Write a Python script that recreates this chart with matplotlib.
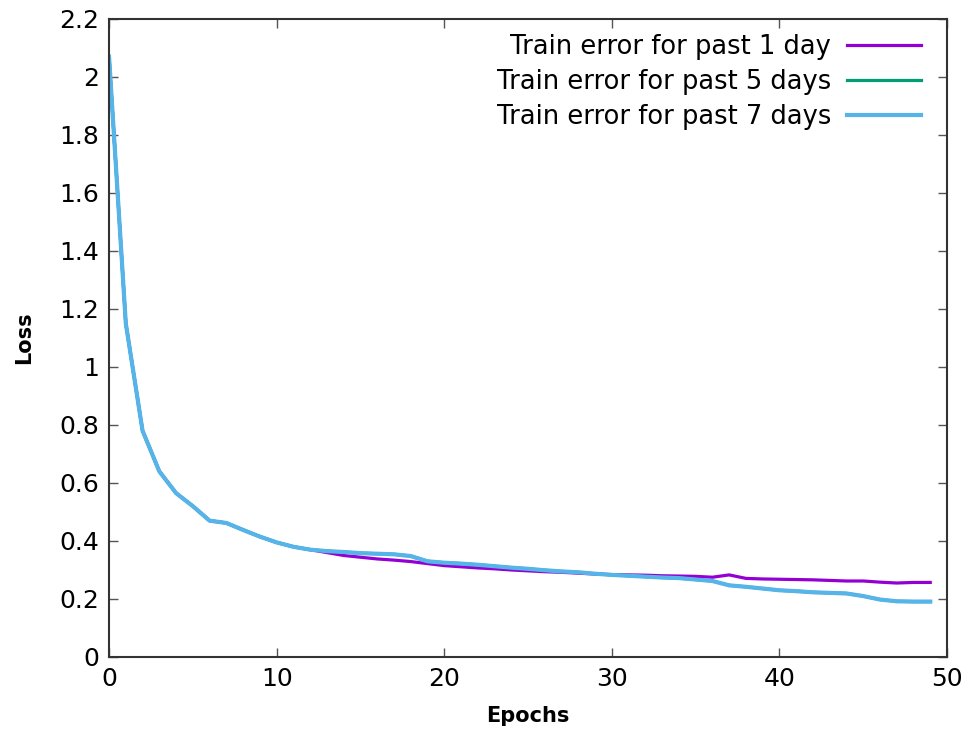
import matplotlib
matplotlib.use("Agg")
import matplotlib.pyplot as plt
from matplotlib.ticker import FuncFormatter, MultipleLocator

epochs = list(range(50))

loss_1day = [2.07, 1.15, 0.78, 0.64, 0.565, 0.52, 0.47, 0.462, 0.438, 0.415,
             0.395, 0.38, 0.37, 0.36, 0.35, 0.344, 0.338, 0.334, 0.329, 0.322,
             0.315, 0.311, 0.307, 0.304, 0.300, 0.297, 0.294, 0.292, 0.289, 0.286,
             0.284, 0.283, 0.282, 0.280, 0.279, 0.278, 0.275, 0.283, 0.271, 0.269,
             0.268, 0.267, 0.266, 0.264, 0.262, 0.262, 0.258, 0.255, 0.257, 0.257]

loss_5days = [2.07, 1.15, 0.78, 0.64, 0.565, 0.52, 0.47, 0.462, 0.438, 0.415,
              0.395, 0.38, 0.37, 0.365, 0.362, 0.358, 0.356, 0.354, 0.348, 0.330,
              0.325, 0.322, 0.318, 0.313, 0.308, 0.304, 0.299, 0.295, 0.292, 0.287,
              0.283, 0.280, 0.277, 0.274, 0.272, 0.267, 0.262, 0.247, 0.242, 0.236,
              0.230, 0.227, 0.223, 0.221, 0.219, 0.210, 0.198, 0.192, 0.191, 0.191]

loss_7days = [2.07, 1.15, 0.78, 0.64, 0.565, 0.52, 0.47, 0.462, 0.438, 0.415,
              0.395, 0.38, 0.37, 0.365, 0.362, 0.358, 0.356, 0.354, 0.348, 0.330,
              0.325, 0.322, 0.318, 0.313, 0.308, 0.304, 0.299, 0.295, 0.292, 0.287,
              0.283, 0.280, 0.277, 0.274, 0.272, 0.267, 0.262, 0.247, 0.242, 0.236,
              0.230, 0.227, 0.223, 0.221, 0.219, 0.210, 0.198, 0.192, 0.191, 0.191]

labels = ["Train error for past 1 day", "Train error for past 5 days",
          "Train error for past 7 days"]
colors = ["#9400D3", "#009E73", "#56B4E9"]

fig = plt.figure(figsize=(9.71, 7.29), dpi=100)
ax = fig.add_axes([0.1123, 0.0988, 0.8630, 0.8752])

ax.plot(epochs, loss_1day, color=colors[0], lw=2.3, label=labels[0])
ax.plot(epochs, loss_5days, color=colors[1], lw=2.3, label=labels[1])
ax.plot(epochs, loss_7days, color=colors[2], lw=3.0, label=labels[2])

ax.set_xlim(0, 50)
ax.set_ylim(0, 2.2)
ax.xaxis.set_major_locator(MultipleLocator(10))
ax.yaxis.set_major_locator(MultipleLocator(0.2))
ax.yaxis.set_major_formatter(FuncFormatter(lambda v, p: "%g" % round(v, 2)))

ax.tick_params(direction="in", length=6.5, width=1, color="#555555",
               top=True, right=True, labelsize=18, pad=7)
for s in ax.spines.values():
    s.set_color("#333333")
    s.set_linewidth(1.5)

ax.set_xlabel("Epochs", fontsize=15, fontweight="bold", labelpad=11)
ax.set_ylabel("Loss", fontsize=15, fontweight="bold", labelpad=18)

ax.legend(loc="upper right", bbox_to_anchor=(0.9905, 1.004), frameon=False,
          markerfirst=False, fontsize=18.5, handlelength=2.9, handletextpad=0.6,
          labelspacing=0.35, borderaxespad=0.3)

fig.savefig("out.png", dpi=100)
